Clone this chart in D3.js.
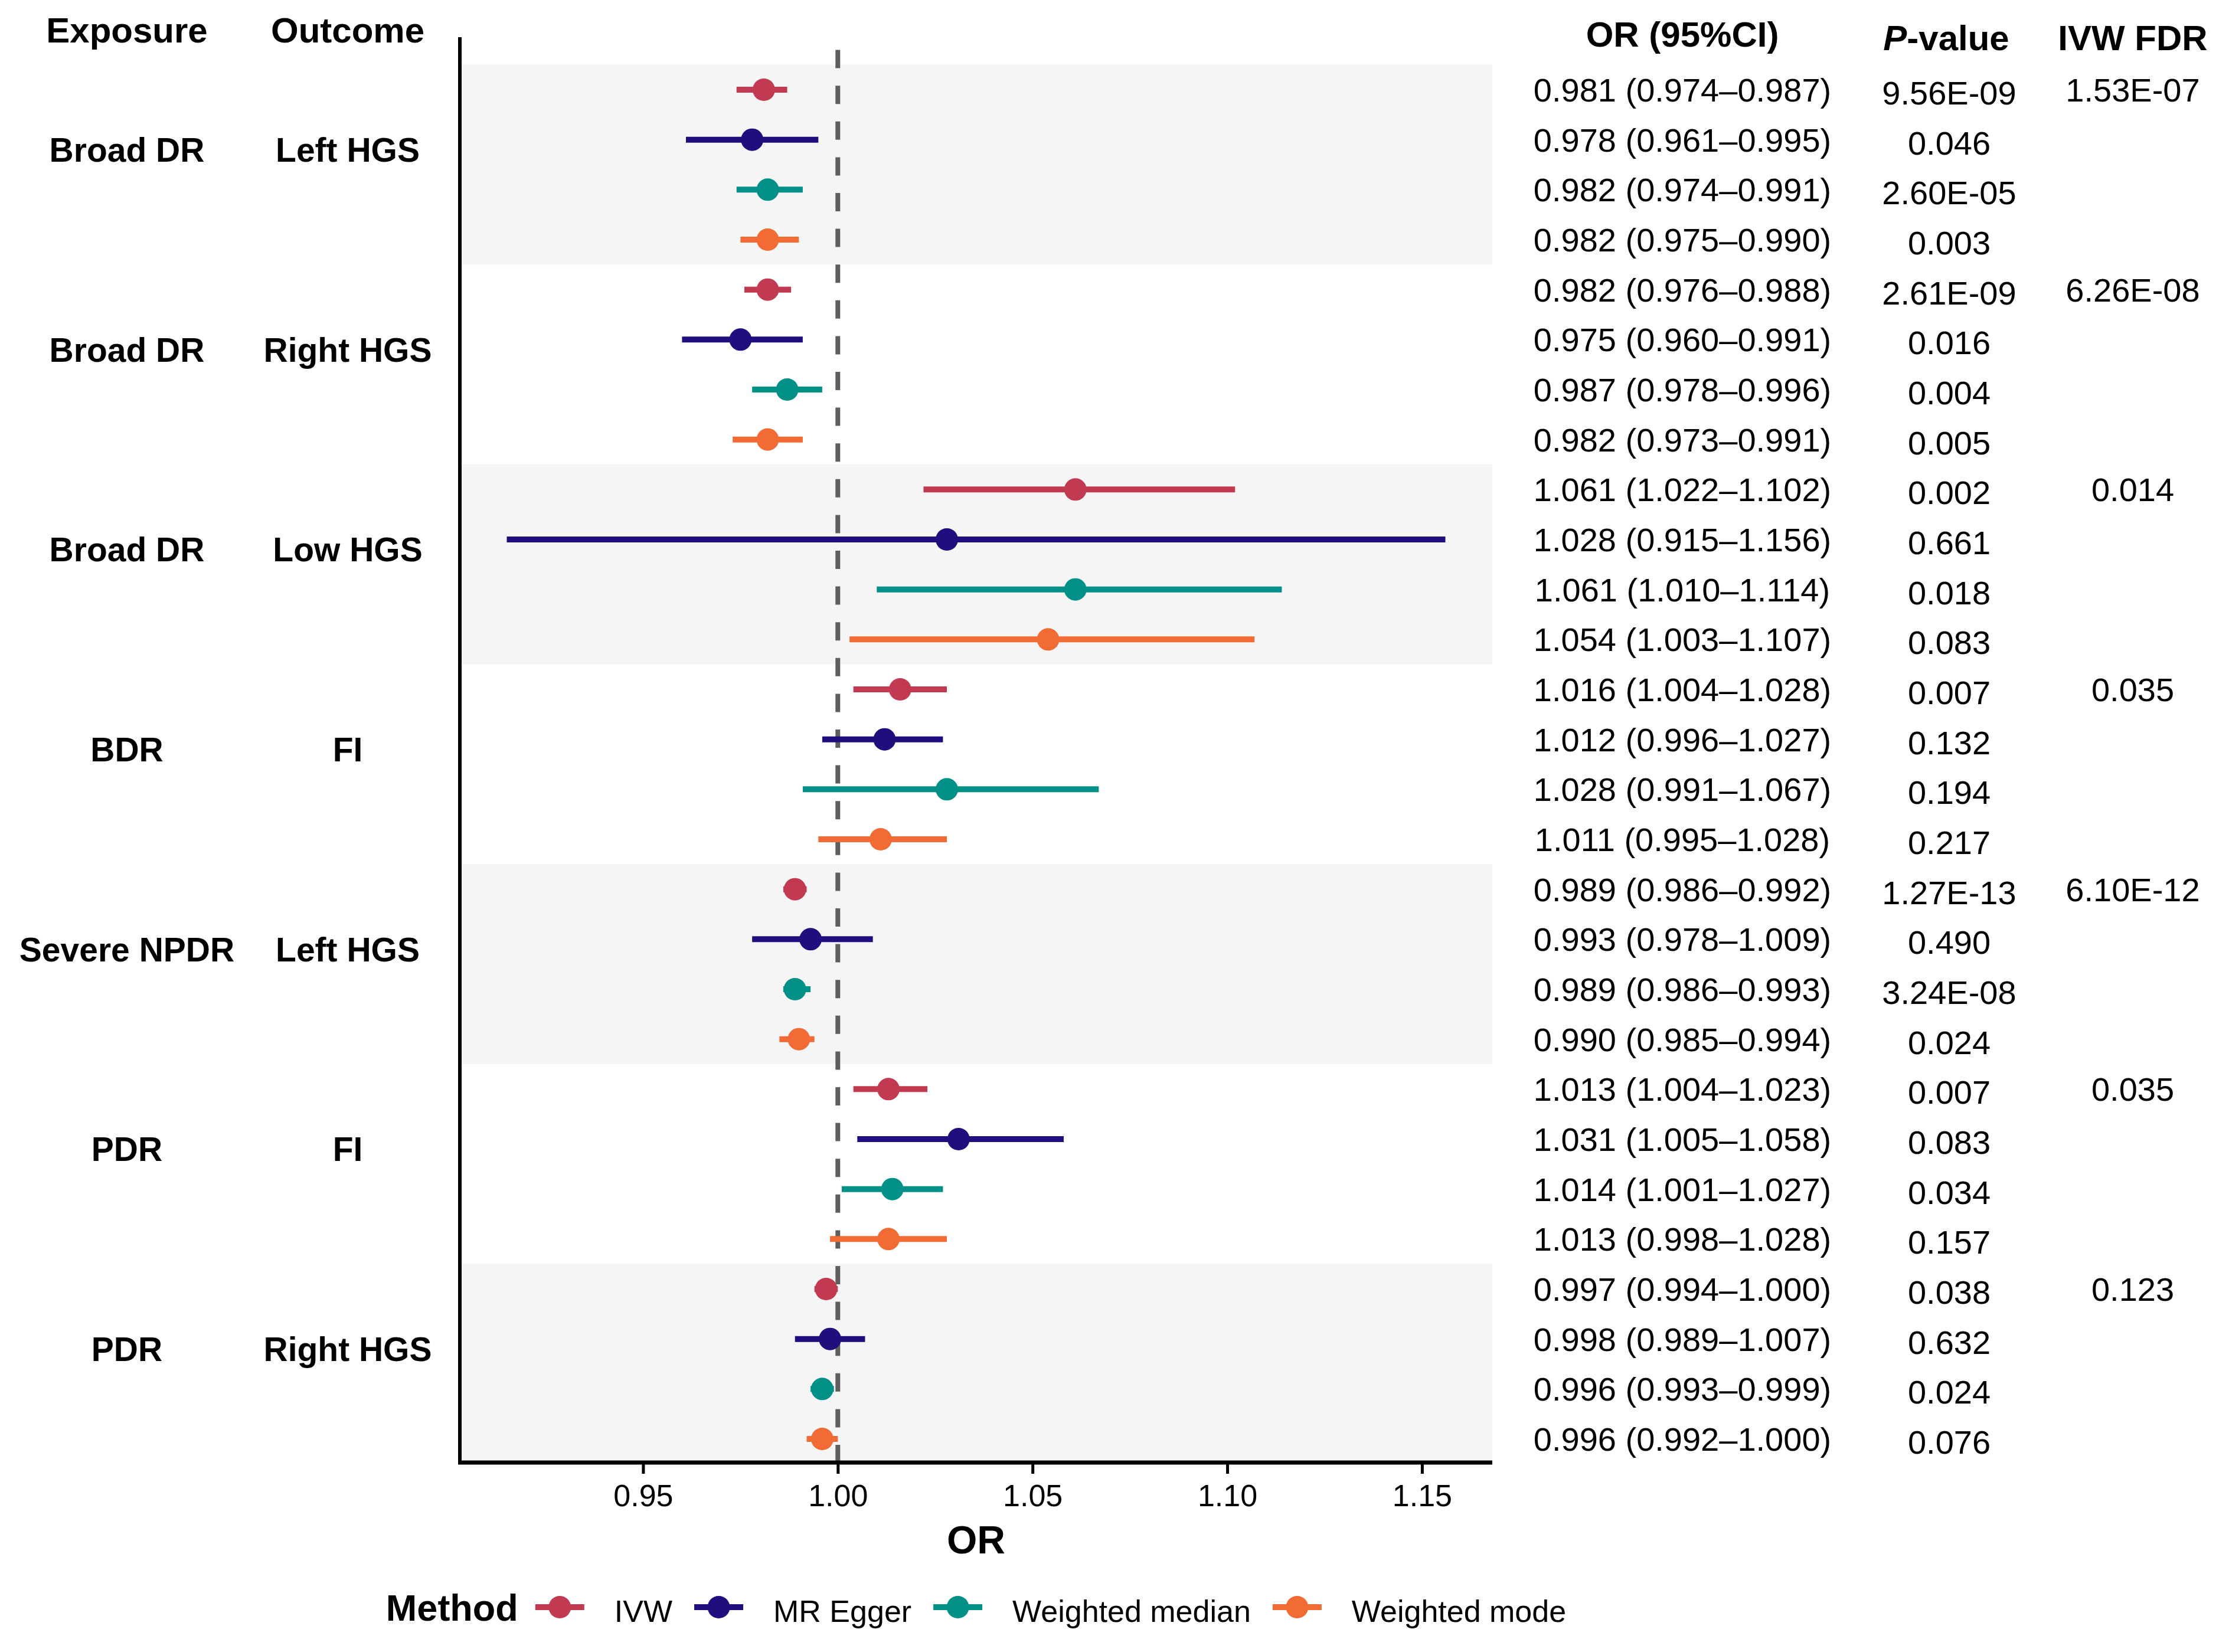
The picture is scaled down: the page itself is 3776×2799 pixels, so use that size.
<!DOCTYPE html>
<html>
<head>
<meta charset="utf-8">
<script src="https://cdn.jsdelivr.net/npm/d3@7"></script>
<style>
  body { margin: 0; background: #fff; }
  text { font-family: "Liberation Sans", Arial, sans-serif; }
</style>
</head>
<body>
<svg id="chart"></svg>
<script>
// data
var exposures = ["Broad DR", "Broad DR", "Broad DR", "BDR", "Severe NPDR", "PDR", "PDR"];
var outcomes  = ["Left HGS", "Right HGS", "Low HGS", "FI", "Left HGS", "FI", "Right HGS"];
var methods   = ["IVW", "MR Egger", "Weighted median", "Weighted mode"];
var methodColors = ["#C23A51", "#1E0E7E", "#009088", "#F26B35"];

var orEst = [0.981, 0.978, 0.982, 0.982,
             0.982, 0.975, 0.987, 0.982,
             1.061, 1.028, 1.061, 1.054,
             1.016, 1.012, 1.028, 1.011,
             0.989, 0.993, 0.989, 0.990,
             1.013, 1.031, 1.014, 1.013,
             0.997, 0.998, 0.996, 0.996];
var ciLow = [0.974, 0.961, 0.974, 0.975,
             0.976, 0.960, 0.978, 0.973,
             1.022, 0.915, 1.010, 1.003,
             1.004, 0.996, 0.991, 0.995,
             0.986, 0.978, 0.986, 0.985,
             1.004, 1.005, 1.001, 0.998,
             0.994, 0.989, 0.993, 0.992];
var ciHigh = [0.987, 0.995, 0.991, 0.990,
              0.988, 0.991, 0.996, 0.991,
              1.102, 1.156, 1.114, 1.107,
              1.028, 1.027, 1.067, 1.028,
              0.992, 1.009, 0.993, 0.994,
              1.023, 1.058, 1.027, 1.028,
              1.000, 1.007, 0.999, 1.000];
var pValues = ["9.56E-09", "0.046", "2.60E-05", "0.003",
               "2.61E-09", "0.016", "0.004", "0.005",
               "0.002", "0.661", "0.018", "0.083",
               "0.007", "0.132", "0.194", "0.217",
               "1.27E-13", "0.490", "3.24E-08", "0.024",
               "0.007", "0.083", "0.034", "0.157",
               "0.038", "0.632", "0.024", "0.076"];
var ivwFdr = ["1.53E-07", "6.26E-08", "0.014", "0.035", "6.10E-12", "0.035", "0.123"];
var xTicks = [0.95, 1.00, 1.05, 1.10, 1.15];

var W = 3776, H = 2799;
var panel = {left: 779, right: 2528, top: 63, bottom: 2478};
var nRows = orEst.length;
var perGroup = methods.length;

var svg = d3.select("#chart").attr("width", W).attr("height", H);
svg.append("rect").attr("width", W).attr("height", H).attr("fill", "#fff");

// x scale with ggplot-like 5% expansion
var lo = d3.min(ciLow), hi = d3.max(ciHigh);
var pad = (hi - lo) * 0.05;
var x = d3.scaleLinear().domain([lo - pad, hi + pad]).range([panel.left, panel.right]);
var y = d3.scaleLinear().domain([0, nRows - 1]).range([152, 2438]);
var step = y(1) - y(0);

var rows = orEst.map(function(d, i) {
    return {i: i, or: d, lo: ciLow[i], hi: ciHigh[i], p: pValues[i], m: i % perGroup};
});

// shaded bands for every other group
var clip = svg.append("clipPath").attr("id", "pclip").append("rect")
    .attr("x", panel.left).attr("y", panel.top)
    .attr("width", panel.right - panel.left).attr("height", panel.bottom - panel.top);

var plot = svg.append("g").attr("clip-path", "url(#pclip)");
plot.selectAll("rect.band")
    .data(exposures.map(function(d, g) { return g; }).filter(function(g) { return g % 2 == 0; }))
    .enter()
    .append("rect")
        .attr("class", "band")
        .attr("x", panel.left)
        .attr("width", panel.right - panel.left)
        .attr("y", function(g) { return y(g * perGroup) - step / 2; })
        .attr("height", step * perGroup)
        .attr("fill", "#F5F5F5");

// reference line at OR = 1
plot.append("line")
    .attr("x1", x(1)).attr("x2", x(1))
    .attr("y1", panel.top).attr("y2", panel.bottom)
    .attr("stroke", "#5E5E5E")
    .attr("stroke-width", 8)
    .attr("stroke-dasharray", "31,29.6")
    .attr("stroke-dashoffset", 39);

// error bars
plot.selectAll("line.ci")
    .data(rows)
    .enter()
    .append("line")
        .attr("class", "ci")
        .attr("x1", function(d) { return x(d.lo); })
        .attr("x2", function(d) { return x(d.hi); })
        .attr("y1", function(d) { return y(d.i); })
        .attr("y2", function(d) { return y(d.i); })
        .attr("stroke", function(d) { return methodColors[d.m]; })
        .attr("stroke-width", 10);

// points
plot.selectAll("circle.pt")
    .data(rows)
    .enter()
    .append("circle")
        .attr("class", "pt")
        .attr("cx", function(d) { return x(d.or); })
        .attr("cy", function(d) { return y(d.i); })
        .attr("r", 19)
        .attr("fill", function(d) { return methodColors[d.m]; });

// axes
var xAxis = d3.axisBottom(x)
    .tickValues(xTicks)
    .tickFormat(d3.format(".2f"))
    .tickSize(19)
    .tickPadding(18);

var gx = svg.append("g")
    .attr("transform", "translate(0," + panel.bottom + ")")
    .call(xAxis);
gx.select(".domain").remove();
gx.selectAll(".tick line").attr("stroke", "#000").attr("stroke-width", 5);
gx.selectAll(".tick text")
    .attr("font-size", 52)
    .attr("fill", "#000")
    .style("font-family", "'Liberation Sans', Arial, sans-serif");

svg.append("line")
    .attr("x1", panel.left - 3).attr("x2", panel.right)
    .attr("y1", panel.bottom).attr("y2", panel.bottom)
    .attr("stroke", "#000").attr("stroke-width", 7);
svg.append("line")
    .attr("x1", panel.left).attr("x2", panel.left)
    .attr("y1", panel.top).attr("y2", panel.bottom)
    .attr("stroke", "#000").attr("stroke-width", 6);

svg.append("text")
    .attr("x", (panel.left + panel.right) / 2)
    .attr("y", 2632)
    .attr("text-anchor", "middle")
    .attr("font-size", 66)
    .attr("font-weight", "bold")
    .text("OR");

// left label columns
var exposureX = 215, outcomeX = 589;
svg.append("text")
    .attr("x", exposureX).attr("y", 72)
    .attr("text-anchor", "middle").attr("font-size", 60).attr("font-weight", "bold")
    .text("Exposure");
svg.append("text")
    .attr("x", outcomeX).attr("y", 72)
    .attr("text-anchor", "middle").attr("font-size", 60).attr("font-weight", "bold")
    .text("Outcome");

var groups = exposures.map(function(d, g) { return {g: g, exp: d, out: outcomes[g], fdr: ivwFdr[g]}; });

svg.selectAll("text.exp")
    .data(groups)
    .enter()
    .append("text")
        .attr("class", "exp")
        .attr("x", exposureX)
        .attr("y", function(d) { return y(d.g * perGroup + 1.2); })
        .attr("dy", "0.36em")
        .attr("text-anchor", "middle")
        .attr("font-size", 57)
        .attr("font-weight", "bold")
        .text(function(d) { return d.exp; });

svg.selectAll("text.out")
    .data(groups)
    .enter()
    .append("text")
        .attr("class", "out")
        .attr("x", outcomeX)
        .attr("y", function(d) { return y(d.g * perGroup + 1.2); })
        .attr("dy", "0.36em")
        .attr("text-anchor", "middle")
        .attr("font-size", 57)
        .attr("font-weight", "bold")
        .text(function(d) { return d.out; });

// right table
var orColX = 2850, pColX = 3302, fdrColX = 3613;
var f3 = d3.format(".3f");

svg.append("text")
    .attr("x", orColX).attr("y", 79)
    .attr("text-anchor", "middle").attr("font-size", 60).attr("font-weight", "bold")
    .text("OR (95%CI)");
var pHead = svg.append("text")
    .attr("x", pColX - 5).attr("y", 85)
    .attr("text-anchor", "middle").attr("font-size", 60).attr("font-weight", "bold");
pHead.append("tspan").attr("font-style", "italic").text("P");
pHead.append("tspan").text("-value");
svg.append("text")
    .attr("x", fdrColX).attr("y", 85)
    .attr("text-anchor", "middle").attr("font-size", 60).attr("font-weight", "bold")
    .text("IVW FDR");

svg.selectAll("text.orci")
    .data(rows)
    .enter()
    .append("text")
        .attr("class", "orci")
        .attr("x", orColX)
        .attr("y", function(d) { return y(d.i); })
        .attr("dy", "0.36em")
        .attr("text-anchor", "middle")
        .attr("font-size", 56)
        .text(function(d) { return f3(d.or) + " (" + f3(d.lo) + "\u2013" + f3(d.hi) + ")"; });

svg.selectAll("text.pval")
    .data(rows)
    .enter()
    .append("text")
        .attr("class", "pval")
        .attr("x", pColX)
        .attr("y", function(d) { return y(d.i) + 5; })
        .attr("dy", "0.36em")
        .attr("text-anchor", "middle")
        .attr("font-size", 56)
        .text(function(d) { return d.p; });

svg.selectAll("text.fdr")
    .data(groups)
    .enter()
    .append("text")
        .attr("class", "fdr")
        .attr("x", fdrColX)
        .attr("y", function(d) { return y(d.g * perGroup); })
        .attr("dy", "0.36em")
        .attr("text-anchor", "middle")
        .attr("font-size", 56)
        .text(function(d) { return d.fdr; });

// legend
var legY = 2723, keyW = 83;
var leg = svg.append("g");
var title = leg.append("text")
    .attr("x", 0).attr("y", legY).attr("dy", "0.36em")
    .attr("font-size", 63).attr("font-weight", "bold")
    .text("Method");
var cx = title.node().getComputedTextLength() + 29;
methods.forEach(function(m, i) {
    leg.append("line")
        .attr("x1", cx).attr("x2", cx + keyW)
        .attr("y1", legY).attr("y2", legY)
        .attr("stroke", methodColors[i]).attr("stroke-width", 10);
    leg.append("circle")
        .attr("cx", cx + keyW / 2).attr("cy", legY).attr("r", 19)
        .attr("fill", methodColors[i]);
    var t = leg.append("text")
        .attr("x", cx + keyW + 51).attr("y", legY + 6).attr("dy", "0.36em")
        .attr("font-size", 52)
        .text(m);
    cx = cx + keyW + 51 + t.node().getComputedTextLength() + 37;
});
var legW = cx - 37;
leg.attr("transform", "translate(" + ((panel.left + panel.right) / 2 - legW / 2) + ",0)");
</script>
</body>
</html>
